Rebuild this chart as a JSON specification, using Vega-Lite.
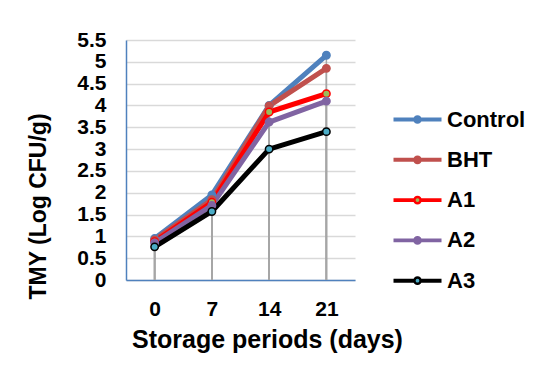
{
  "$schema": "https://vega.github.io/schema/vega-lite/v6.json",
  "width": 229,
  "height": 240,
  "autosize": {"type": "none"},
  "padding": {"left": 126, "top": 40, "right": 192, "bottom": 101},
  "background": "white",
  "config": {
    "view": {"stroke": null},
    "font": "Liberation Sans",
    "legend": {"padding": 0}
  },
  "data": {
    "values": [
      {"series": "Control", "day": 0, "value": 0.95},
      {"series": "Control", "day": 7, "value": 1.95},
      {"series": "Control", "day": 14, "value": 4.0},
      {"series": "Control", "day": 21, "value": 5.15},
      {"series": "BHT", "day": 0, "value": 0.92},
      {"series": "BHT", "day": 7, "value": 1.84},
      {"series": "BHT", "day": 14, "value": 3.99},
      {"series": "BHT", "day": 21, "value": 4.85},
      {"series": "A1", "day": 0, "value": 0.88},
      {"series": "A1", "day": 7, "value": 1.78},
      {"series": "A1", "day": 14, "value": 3.85},
      {"series": "A1", "day": 21, "value": 4.27},
      {"series": "A2", "day": 0, "value": 0.85},
      {"series": "A2", "day": 7, "value": 1.71},
      {"series": "A2", "day": 14, "value": 3.62},
      {"series": "A2", "day": 21, "value": 4.1},
      {"series": "A3", "day": 0, "value": 0.76},
      {"series": "A3", "day": 7, "value": 1.57},
      {"series": "A3", "day": 14, "value": 3.0},
      {"series": "A3", "day": 21, "value": 3.4}
    ]
  },
  "encoding": {
    "x": {
      "field": "day",
      "type": "ordinal",
      "scale": {"type": "point", "padding": 0.5},
      "axis": {
        "title": "Storage periods (days)",
        "labelAngle": 0,
        "labelFont": "Liberation Sans",
        "labelFontWeight": "bold",
        "labelFontSize": 21,
        "labelColor": "black",
        "labelPadding": 18,
        "ticks": false,
        "tickSize": 0,
        "domainColor": "#4F81BD",
        "domainWidth": 1.5,
        "grid": false,
        "titleFont": "Liberation Sans",
        "titleFontWeight": "bold",
        "titleFontSize": 25,
        "titleColor": "black",
        "titlePadding": 8,
        "titleX": 141
      }
    },
    "y": {
      "field": "value",
      "type": "quantitative",
      "scale": {"domain": [0, 5.5], "nice": false},
      "axis": {
        "title": "TMY (Log CFU/g)",
        "values": [0, 0.5, 1, 1.5, 2, 2.5, 3, 3.5, 4, 4.5, 5, 5.5],
        "labelExpr": "'' + datum.value",
        "labelOverlap": false,
        "labelFont": "Liberation Sans",
        "labelFontWeight": "bold",
        "labelFontSize": 21,
        "labelColor": "black",
        "labelPadding": 20,
        "ticks": false,
        "tickSize": 0,
        "domainColor": "#4F81BD",
        "domainWidth": 1.5,
        "grid": true,
        "gridColor": "#D9D9D9",
        "gridWidth": 1.5,
        "titleFont": "Liberation Sans",
        "titleFontWeight": "bold",
        "titleFontSize": 23,
        "titleColor": "black",
        "titlePadding": 26,
        "titleY": 166
      }
    }
  },
  "layer": [
    {
      "mark": {"type": "rule", "color": "#A6A6A6", "strokeWidth": 1.5},
      "encoding": {
        "y2": {"datum": 0}
      }
    },
    {
      "mark": {"type": "line", "strokeWidth": 5, "strokeJoin": "round", "strokeCap": "round"},
      "encoding": {
        "stroke": {
          "field": "series",
          "type": "nominal",
          "scale": {
            "domain": ["Control", "BHT", "A1", "A2", "A3"],
            "range": ["#4F81BD", "#C0504D", "#FF0000", "#8064A2", "#000000"]
          },
          "legend": {
            "title": null,
            "orient": "none",
            "legendX": 266,
            "legendY": 54,
            "symbolType": "M-1,-0.03H-0.13M0.13,-0.03H1M-1,0.03H-0.13M0.13,0.03H1M0.13,0A0.13,0.13,0,1,1,-0.13,0A0.13,0.13,0,1,1,0.13,0Z",
            "symbolSize": 2304,
            "symbolStrokeWidth": 2.5,
            "symbolOpacity": 1,
            "labelFont": "Liberation Sans",
            "labelFontWeight": "bold",
            "labelFontSize": 22,
            "labelColor": "black",
            "labelOffset": 4,
            "rowPadding": 3.3
          }
        },
        "order": {"field": "day", "type": "quantitative"}
      }
    },
    {
      "mark": {"type": "point", "filled": true, "size": 55, "strokeWidth": 1.5, "opacity": 1},
      "encoding": {
        "stroke": {"field": "series", "type": "nominal"},
        "fill": {
          "field": "series",
          "type": "nominal",
          "scale": {
            "domain": ["Control", "BHT", "A1", "A2", "A3"],
            "range": ["#4F81BD", "#C0504D", "#9BBB59", "#8064A2", "#4BACC6"]
          },
          "legend": {
            "title": null,
            "orient": "none",
            "legendX": 266,
            "legendY": 54,
            "symbolType": "M-1,-0.03H-0.13M0.13,-0.03H1M-1,0.03H-0.13M0.13,0.03H1M0.13,0A0.13,0.13,0,1,1,-0.13,0A0.13,0.13,0,1,1,0.13,0Z",
            "symbolSize": 2304,
            "symbolStrokeWidth": 2.5,
            "symbolOpacity": 1,
            "labelFont": "Liberation Sans",
            "labelFontWeight": "bold",
            "labelFontSize": 22,
            "labelColor": "black",
            "labelOffset": 4,
            "rowPadding": 3.3
          }
        }
      }
    }
  ]
}
